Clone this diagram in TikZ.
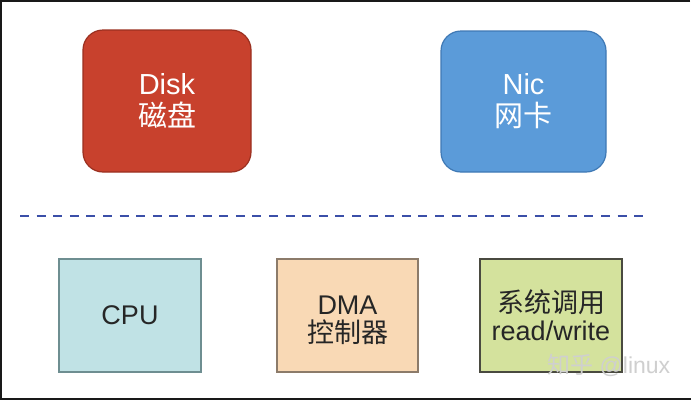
\documentclass[tikz,border=0pt]{standalone}
\usepackage{fontspec}
\setmainfont{Liberation Sans}
\newfontfamily\cjk{Noto Sans CJK SC}
\definecolor{diskfill}{HTML}{C8412D}
\definecolor{diskdraw}{HTML}{9B3020}
\definecolor{nicfill}{HTML}{5B9BD9}
\definecolor{nicdraw}{HTML}{3F79B5}
\definecolor{cpufill}{HTML}{C0E2E5}
\definecolor{cpudraw}{HTML}{6E8E91}
\definecolor{dmafill}{HTML}{F9D9B5}
\definecolor{dmadraw}{HTML}{8C7B6A}
\definecolor{sysfill}{HTML}{D4E29D}
\definecolor{sysdraw}{HTML}{4A4A40}
\definecolor{dashcol}{HTML}{3B4FA8}
\definecolor{wmark}{HTML}{CFCFCF}
\tikzset{
  dev/.style={draw, line width=1.2pt, rounded corners=20pt, text=white, align=center,
    font=\fontsize{29}{33}\selectfont, inner sep=0pt},
  comp/.style={draw, line width=1.3pt, text=black!85, align=center,
    font=\fontsize{27}{30}\selectfont, inner sep=0pt},
  comptext/.style={text=black!85, align=center, font=\fontsize{27}{30}\selectfont, inner sep=0pt},
}
\begin{document}
\begin{tikzpicture}[x=1pt,y=-1pt]
\useasboundingbox (0,0) rectangle (691,402);
\fill[white] (0,0) rectangle (691,402);
% frame
\draw[line width=2pt, black!90] (690,1) -- (1,1) -- (1,399) -- (691,399);
% top devices
\node[dev, fill=diskfill, draw=diskdraw, minimum width=168pt, minimum height=142pt] (disk) at (167,101) {Disk\\[-1pt]{\cjk 磁盘}};
\node[dev, fill=nicfill, draw=nicdraw, minimum width=165pt, minimum height=141pt] (nic) at (523.5,101.5) {Nic\\[-1pt]{\cjk 网卡}};
% dashed separator
\coordinate (dl) at (20,216);
\coordinate (dr) at (648,216);
\draw[dashcol, line width=1.8pt, dash pattern=on 9pt off 7.6pt] (dl) -- (dr);
% bottom components
\node[comp, fill=cpufill, draw=cpudraw, minimum width=142pt, minimum height=113pt] (cpu) at (130,315.5) {CPU};
\node[comp, fill=dmafill, draw=dmadraw, minimum width=141pt, minimum height=113pt] (dma) at (347.5,315.5) {};
\node[comptext, yshift=-5pt] (dmatext) at (dma.center) {DMA\\[-2pt]{\cjk 控制器}};
\node[comp, fill=sysfill, draw=sysdraw, minimum width=142pt, minimum height=113pt] (sys) at (551,315.5) {{\cjk 系统调用}\\[-2pt]read/write};
% watermark
\node[text=wmark, font=\fontsize{23}{26}\selectfont, anchor=west, inner sep=0pt] (wm) at (547,365) {{\cjk 知乎} @linux};
\end{tikzpicture}
\end{document}
